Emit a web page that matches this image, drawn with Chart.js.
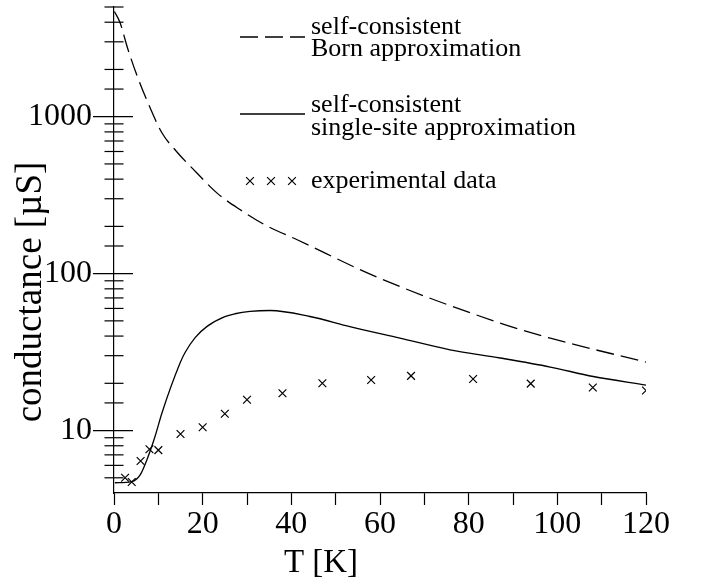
<!DOCTYPE html>
<html>
<head>
<meta charset="utf-8">
<script src="https://cdn.jsdelivr.net/npm/chart.js@4/dist/chart.umd.min.js"></script>
<style>
  html, body { margin: 0; padding: 0; background: #fff; }
  #wrap { width: 701px; height: 581px; }
</style>
</head>
<body>
<div id="wrap"><canvas id="chart" width="701" height="581"></canvas></div>
<script>
// Conductance vs temperature: two self-consistent theories and measurement.
const bornT = [0.1, 1.35, 3.16, 5.19, 8.12, 10.8, 14.1, 18.7, 23.2, 28.4, 34.4, 41.2, 59.3, 87.1, 98.4, 120];
const bornG = [4680, 3980, 2680, 1828, 1143, 790, 600, 438, 327, 256, 202, 165, 95, 48.4, 38.8, 27.3];

const ssaT = [0.2, 4.0, 5.9, 7.7, 9.25, 10.8, 14.9, 16.0, 18.3, 21.0, 25.0, 27.3, 30.7, 35.2, 44.2, 53.2, 64.5, 75.8, 87.1, 98.4, 108.1, 120];
const ssaG = [4.65, 4.73, 5.22, 6.83, 9.16, 12.9, 26.9, 31.3, 39.1, 46.1, 53.2, 55.5, 57.4, 58.2, 53.3, 46, 38.8, 32.7, 29, 25.4, 22.1, 19.5];

const expT = [2.5, 4, 6, 8, 10, 15, 20, 25, 30, 38, 47, 58, 67, 81, 94, 108, 120];
const expG = [5.0, 4.7, 6.4, 7.6, 7.5, 9.5, 10.5, 12.8, 15.7, 17.3, 20.0, 21.0, 22.3, 21.3, 19.9, 18.8, 18.0];

const xTickLabels = [0, 20, 40, 60, 80, 100, 120];
const yTickLabels = [10, 100, 1000];

const legendLines = [
  ['self-consistent', 'Born approximation'],
  ['self-consistent', 'single-site approximation'],
  ['experimental data']
];
const xTitle = 'T [K]';
const yTitle = 'conductance [\u00B5S]';

const SERIF = '"Liberation Serif", "Times New Roman", Times, serif';
const INK = '#000';

const pairs = (xs, ys) => xs.map((x, i) => ({ x: x, y: ys[i] }));

// Tick marks on the log axis straddle the axis line: long at decades, short otherwise.
const logAxisTicks = {
  id: 'logAxisTicks',
  afterDraw(chart) {
    const ys = chart.scales.y;
    const ctx = chart.ctx;
    const x0 = chart.chartArea.left;
    ctx.save();
    ctx.strokeStyle = INK;
    ctx.lineWidth = 1.2;
    ys.ticks.forEach(t => {
      if (t.value <= ys.min) return;
      const p = ys.getPixelForValue(t.value);
      const major = yTickLabels.includes(t.value);
      const left = major ? 21 : 9.5;
      const right = major ? 19 : 9.5;
      ctx.beginPath();
      ctx.moveTo(x0 - left, p);
      ctx.lineTo(x0 + right, p);
      ctx.stroke();
    });
    ctx.restore();
  }
};

// Axis titles and the in-plot key.
const annotations = {
  id: 'annotations',
  afterDraw(chart) {
    const ctx = chart.ctx;
    const ds = chart.data.datasets;
    ctx.save();
    ctx.fillStyle = INK;
    ctx.strokeStyle = INK;
    ctx.textAlign = 'center';
    ctx.textBaseline = 'alphabetic';

    ctx.font = '33px ' + SERIF;
    ctx.fillText(xTitle, 321, 572);

    ctx.save();
    ctx.font = '37px ' + SERIF;
    ctx.translate(41, 292);
    ctx.rotate(-Math.PI / 2);
    ctx.fillText(yTitle, 0, 0);
    ctx.restore();

    // key
    const x1 = 240, x2 = 305, tx = 311;
    ctx.font = '26px ' + SERIF;
    ctx.textAlign = 'left';

    ctx.lineWidth = ds[0].borderWidth;
    ctx.setLineDash(ds[0].borderDash);
    ctx.beginPath(); ctx.moveTo(x1, 37); ctx.lineTo(x2, 37); ctx.stroke();
    ctx.setLineDash([]);
    ctx.fillText(legendLines[0][0], tx, 34);
    ctx.fillText(legendLines[0][1], tx, 56);

    ctx.lineWidth = ds[1].borderWidth;
    ctx.beginPath(); ctx.moveTo(x1, 114); ctx.lineTo(x2, 114); ctx.stroke();
    ctx.fillText(legendLines[1][0], tx, 112);
    ctx.fillText(legendLines[1][1], tx, 135);

    const h = ds[2].pointRadius * Math.SQRT1_2;
    ctx.lineWidth = ds[2].pointBorderWidth;
    [250, 271, 292].forEach(cx => {
      const cy = 181;
      ctx.beginPath();
      ctx.moveTo(cx - h, cy - h); ctx.lineTo(cx + h, cy + h);
      ctx.moveTo(cx - h, cy + h); ctx.lineTo(cx + h, cy - h);
      ctx.stroke();
    });
    ctx.fillText(legendLines[2][0], tx, 188);
    ctx.restore();
  }
};

new Chart(document.getElementById('chart'), {
  type: 'scatter',
  data: {
    datasets: [
      {
        label: 'self-consistent Born approximation',
        data: pairs(bornT, bornG),
        showLine: true,
        borderColor: INK,
        borderWidth: 1.3,
        borderDash: [18, 7],
        pointRadius: 0,
        cubicInterpolationMode: 'monotone'
      },
      {
        label: 'self-consistent single-site approximation',
        data: pairs(ssaT, ssaG),
        showLine: true,
        borderColor: INK,
        borderWidth: 1.3,
        pointRadius: 0,
        cubicInterpolationMode: 'monotone'
      },
      {
        label: 'experimental data',
        data: pairs(expT, expG),
        showLine: false,
        pointStyle: 'crossRot',
        pointRadius: 5.5,
        pointBorderWidth: 1.2,
        pointBorderColor: INK,
        pointBackgroundColor: INK
      }
    ]
  },
  options: {
    responsive: false,
    animation: false,
    devicePixelRatio: 1,
    layout: { padding: { top: 7, right: 55, left: 0, bottom: 0 } },
    plugins: { legend: { display: false }, tooltip: { enabled: false } },
    scales: {
      x: {
        type: 'linear',
        min: 0,
        max: 120,
        afterBuildTicks(scale) {
          const t = [];
          for (let v = 0; v <= 120; v += 10) t.push({ value: v });
          scale.ticks = t;
        },
        ticks: {
          autoSkip: false,
          maxRotation: 0,
          padding: 0,
          color: INK,
          font: { family: SERIF, size: 32 },
          callback: v => (xTickLabels.includes(v) ? String(v) : '')
        },
        grid: {
          display: true,
          drawOnChartArea: false,
          drawTicks: true,
          tickLength: 12,
          tickColor: INK,
          tickWidth: 1.2,
          color: INK
        },
        border: { display: true, color: INK, width: 1.2 },
        afterFit(scale) {
          scale.height = 88;
          scale.paddingLeft = 0;
          scale.paddingRight = 0;
        }
      },
      y: {
        type: 'logarithmic',
        min: 4,
        max: 5000,
        ticks: {
          autoSkip: false,
          padding: 22,
          color: INK,
          font: { family: SERIF, size: 32 },
          callback: v => (yTickLabels.includes(v) ? String(v) : '')
        },
        grid: { display: false, drawTicks: false },
        border: { display: true, color: INK, width: 1.2 },
        afterFit(scale) {
          scale.width = 114;
          scale.paddingTop = 0;
          scale.paddingBottom = 0;
        }
      }
    }
  },
  plugins: [logAxisTicks, annotations]
});
</script>
</body>
</html>
